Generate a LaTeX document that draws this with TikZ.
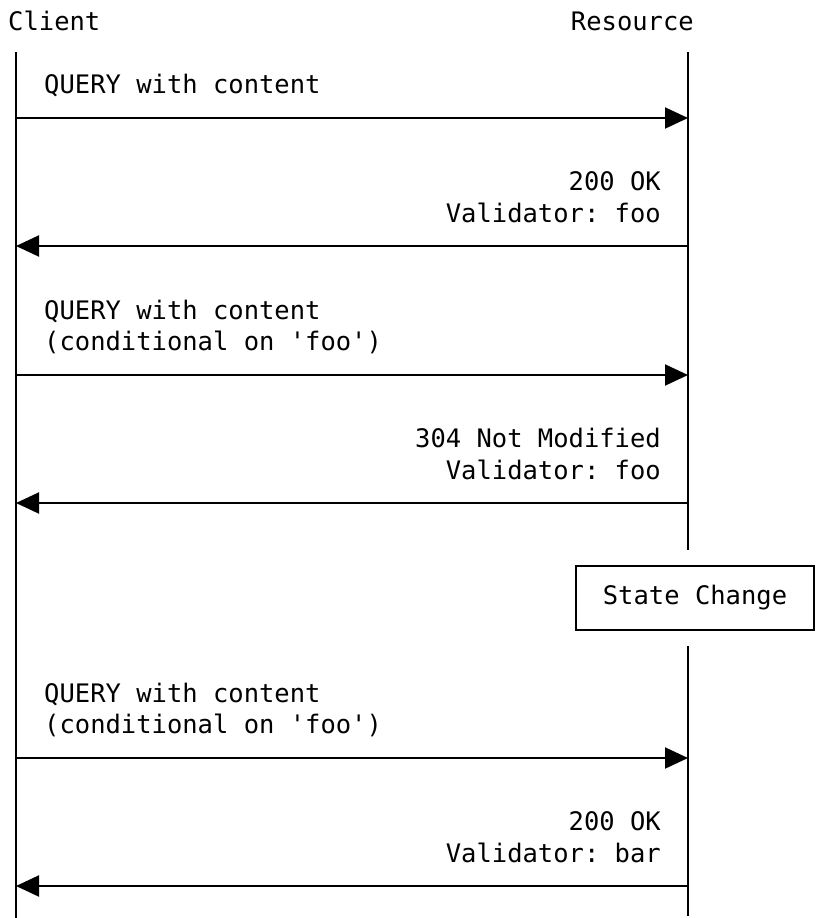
\documentclass[tikz,border=0pt]{standalone}
\usepackage{fontspec}
\setmonofont{DejaVu Sans Mono}
\usetikzlibrary{arrows.meta}
\begin{document}
\begin{tikzpicture}[x=1pt,y=-1pt,
  lbl/.style={font=\ttfamily\fontsize{25.5}{31.5}\selectfont, inner sep=0pt},
  msg/.style={line width=2pt, -{Triangle[length=23pt,width=21pt]}},
  life/.style={line width=2pt},
  statebox/.style={draw, line width=2pt, minimum width=238pt, minimum height=64pt, inner sep=0pt, font=\ttfamily\fontsize{25.5}{31.5}\selectfont},
]
\useasboundingbox (0,0) rectangle (817,918);

% participants
\node[lbl, anchor=base west] (client) at (8,30) {Client};
\node[lbl, anchor=base east] (resource) at (694,30) {Resource};

% lifelines
\coordinate (ctop) at (16,52);
\coordinate (cbot) at (16,918);
\coordinate (rtop) at (688,52);
\coordinate (rmid1) at (688,550);
\coordinate (rmid2) at (688,646);
\coordinate (rbot) at (688,916);
\draw[life] (ctop) -- (cbot);
\draw[life] (rtop) -- (rmid1);
\draw[life] (rmid2) -- (rbot);

% state change
\node[statebox] (state) at (695,598) {State Change};

% message endpoints
\foreach \i/\y in {1/118,2/246,3/375,4/503,5/758,6/886}{
  \coordinate (c\i) at (16,\y);
  \coordinate (r\i) at (688,\y);
}

% messages
\draw[msg] (c1) -- (r1);
\draw[msg] (r2) -- (c2);
\draw[msg] (c3) -- (r3);
\draw[msg] (r4) -- (c4);
\draw[msg] (c5) -- (r5);
\draw[msg] (r6) -- (c6);

% labels
\node[lbl, anchor=base west] (m1) at (44,93) {QUERY with content};

\node[lbl, anchor=base east] (m2a) at (661,190) {200 OK};
\node[lbl, anchor=base east] (m2b) at (661,222) {Validator: foo};

\node[lbl, anchor=base west] (m3a) at (44,319) {QUERY with content};
\node[lbl, anchor=base west] (m3b) at (44,350) {(conditional on 'foo')};

\node[lbl, anchor=base east] (m4a) at (661,447) {304 Not Modified};
\node[lbl, anchor=base east] (m4b) at (661,479) {Validator: foo};

\node[lbl, anchor=base west] (m5a) at (44,702) {QUERY with content};
\node[lbl, anchor=base west] (m5b) at (44,733) {(conditional on 'foo')};

\node[lbl, anchor=base east] (m6a) at (661,830) {200 OK};
\node[lbl, anchor=base east] (m6b) at (661,862) {Validator: bar};
\end{tikzpicture}
\end{document}
